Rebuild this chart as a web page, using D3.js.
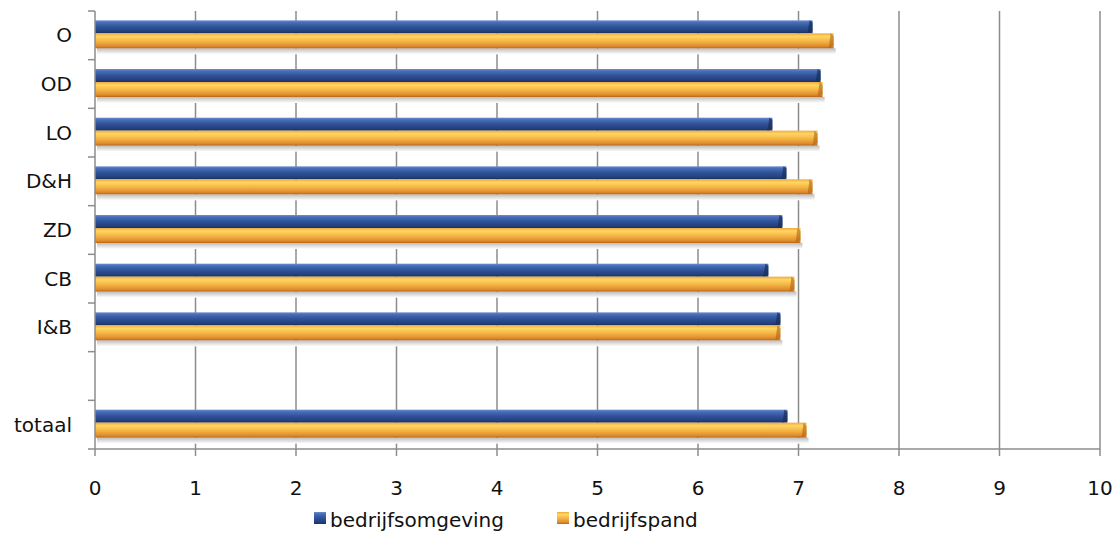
<!DOCTYPE html>
<html>
<head>
<meta charset="utf-8">
<script src="https://cdn.jsdelivr.net/npm/d3@7"></script>
<style>
  body { margin: 0; background: #fff; }
  text { font-family: "DejaVu Sans", sans-serif; fill: #111; }
</style>
</head>
<body>
<div id="chart"></div>
<script>
// categories top to bottom, empty slot kept as a blank row
const categories = ['O', 'OD', 'LO', 'D&H', 'ZD', 'CB', 'I&B', '', 'totaal'];
const omgeving = [7.14, 7.22, 6.74, 6.88, 6.84, 6.70, 6.82, null, 6.89];
const pand = [7.35, 7.24, 7.19, 7.14, 7.02, 6.96, 6.82, null, 7.08];
const seriesNames = ['bedrijfsomgeving', 'bedrijfspand'];
const xTicks = [0, 1, 2, 3, 4, 5, 6, 7, 8, 9, 10];

const width = 1117, height = 536;
const margin = { top: 11, right: 17, bottom: 87, left: 95 };
const innerW = width - margin.left - margin.right;
const innerH = height - margin.top - margin.bottom;

const svg = d3.select('#chart').append('svg')
    .attr('width', width)
    .attr('height', height);

const defs = svg.append('defs');
function grad(id, stops) {
    const g = defs.append('linearGradient').attr('id', id)
        .attr('x1', 0).attr('y1', 0).attr('x2', 0).attr('y2', 1);
    stops.forEach(s => g.append('stop').attr('offset', s[0]).attr('stop-color', s[1]));
}
grad('blueGrad', [[0, '#6a8fd0'], [0.15, '#4a6fb8'], [0.5, '#2f5299'], [0.85, '#22407c'], [1, '#1a2f5e']]);
grad('orangeGrad', [[0, '#f0a840'], [0.2, '#ffd660'], [0.5, '#f5b848'], [0.85, '#e08c2c'], [1, '#b8671c']]);
grad('shadowGrad', [[0, '#bdbdbd'], [1, '#ffffff']]);

const chart = svg.append('g')
    .attr('transform', `translate(${margin.left},${margin.top})`);

const x = d3.scaleLinear().domain([0, 10]).range([0, innerW]);
const y = d3.scaleBand().domain(d3.range(categories.length)).range([0, innerH]);

// vertical gridlines
chart.append('g').selectAll('line')
    .data(xTicks.slice(1))
    .enter().append('line')
    .attr('x1', d => x(d)).attr('x2', d => x(d))
    .attr('y1', 0).attr('y2', innerH)
    .attr('stroke', '#8c8c8c')
    .attr('stroke-width', 1.5);

const barH = 14;
const rows = categories.map((c, i) => ({ i, a: omgeving[i], b: pand[i] })).filter(d => d.a != null);

const rowG = chart.append('g').selectAll('g')
    .data(rows)
    .enter().append('g')
    .attr('transform', d => `translate(0,${y(d.i) + y.bandwidth() / 2 - barH - 1})`);

// soft shadow beneath the pair
rowG.append('rect')
    .attr('x', 2).attr('y', 2 * barH)
    .attr('width', d => x(Math.max(d.a, d.b)))
    .attr('height', 6)
    .attr('fill', 'url(#shadowGrad)');

rowG.append('rect')
    .attr('x', 0).attr('y', 0)
    .attr('width', d => x(d.a))
    .attr('height', barH - 1)
    .attr('fill', 'url(#blueGrad)');

rowG.append('rect')
    .attr('x', 0).attr('y', barH - 1)
    .attr('width', d => x(d.b))
    .attr('height', barH + 1)
    .attr('fill', 'url(#orangeGrad)');

// bevel ends
rowG.append('path')
    .attr('d', d => `M${x(d.a) - 5},${barH - 1} L${x(d.a)},${barH - 3} L${x(d.a)},2 L${x(d.a) - 3},0 Z`)
    .attr('fill', '#1a2d5a').attr('opacity', 0.7);
rowG.append('path')
    .attr('d', d => `M${x(d.b) - 5},${2 * barH} L${x(d.b)},${2 * barH - 3} L${x(d.b)},${barH + 2} L${x(d.b) - 3},${barH - 1} Z`)
    .attr('fill', '#b06318').attr('opacity', 0.6);

// left axis
const yAxisG = chart.append('g');
yAxisG.append('line')
    .attr('x1', 0).attr('x2', 0).attr('y1', 0).attr('y2', innerH)
    .attr('stroke', '#8c8c8c').attr('stroke-width', 1.5);
yAxisG.selectAll('.yt')
    .data(d3.range(categories.length + 1))
    .enter().append('line')
    .attr('x1', -7).attr('x2', 0)
    .attr('y1', d => d * y.step()).attr('y2', d => d * y.step())
    .attr('stroke', '#8c8c8c').attr('stroke-width', 1.5);
yAxisG.selectAll('text')
    .data(categories)
    .enter().append('text')
    .attr('x', -23)
    .attr('y', (d, i) => y(i) + y.bandwidth() / 2)
    .attr('dy', '0.35em')
    .attr('text-anchor', 'end')
    .style('font-size', '20px')
    .text(d => d);

// bottom axis
const xAxisG = chart.append('g').attr('transform', `translate(0,${innerH})`);
xAxisG.append('line')
    .attr('x1', 0).attr('x2', innerW)
    .attr('stroke', '#8c8c8c').attr('stroke-width', 1.5);
xAxisG.selectAll('line.xt')
    .data(xTicks)
    .enter().append('line')
    .attr('class', 'xt')
    .attr('x1', d => x(d)).attr('x2', d => x(d))
    .attr('y1', 0).attr('y2', 7)
    .attr('stroke', '#8c8c8c').attr('stroke-width', 1.5);
xAxisG.selectAll('text')
    .data(xTicks)
    .enter().append('text')
    .attr('x', d => x(d))
    .attr('y', 46)
    .attr('text-anchor', 'middle')
    .style('font-size', '20px')
    .text(d => d);

// legend
const legend = svg.append('g').attr('transform', 'translate(314,512)');
const legendX = [0, 243];
const legendFill = ['url(#blueGrad)', 'url(#orangeGrad)'];
seriesNames.forEach((name, i) => {
    const g = legend.append('g').attr('transform', `translate(${legendX[i]},0)`);
    g.append('rect').attr('width', 12).attr('height', 12)
        .attr('fill', legendFill[i]);
    g.append('text').attr('x', 16).attr('y', 8).attr('dy', '0.35em')
        .style('font-size', '20px').text(name);
});
</script>
</body>
</html>
